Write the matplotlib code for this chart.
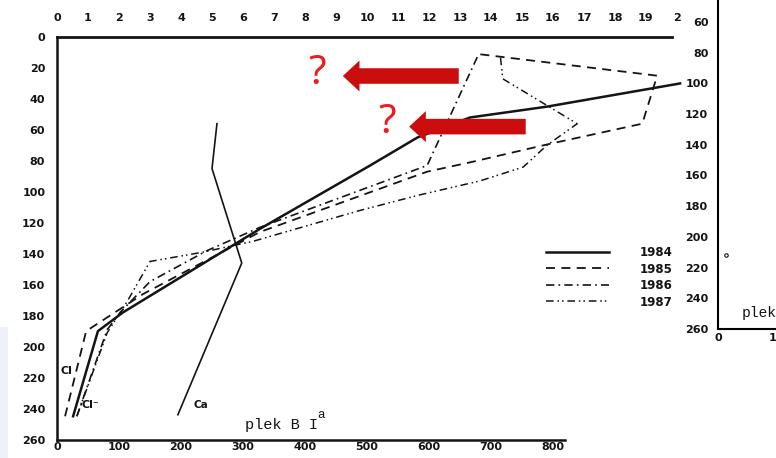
import matplotlib
matplotlib.use('Agg')
import matplotlib.pyplot as plt
from matplotlib.patches import Rectangle

# chloride profiles (mg/l) against depth (cm), plek B I^a
depth_1984 = [245, 190, 178, 124, 83, 65, 52, 45, 30]
cl_1984 = [26, 66, 106, 327, 505, 581, 666, 790, 1005]

depth_1985 = [245, 190, 166, 126, 87, 81, 69, 56, 25, 11]
cl_1985 = [13, 47, 139, 327, 597, 666, 795, 944, 968, 679]

depth_1986 = [245, 189, 177, 158, 138, 123, 83, 51, 12]
cl_1986 = [32, 81, 104, 150, 242, 327, 597, 634, 679]

depth_1987 = [245, 191, 171, 145, 139, 132, 112, 102, 93, 84, 70, 56, 27, 12]
cl_1987 = [32, 81, 113, 150, 235, 316, 489, 585, 682, 752, 790, 839, 719, 715]

# calcium profile
depth_ca = [56, 85, 146, 244]
ca = [258, 250, 298, 195]

years = ['1984', '1985', '1986', '1987']
depth_ticks = list(range(0, 261, 20))
bottom_ticks = list(range(0, 801, 100))
top_ticks = list(range(0, 21))
top_labels = [str(t) for t in range(20)] + ['2']

ink = '#141414'
W, H = 776, 458
fig = plt.figure(figsize=(W / 100, H / 100), dpi=100)

# left edge strip of the next panel in the scan
fig.patches.append(Rectangle((0, 0), 8 / W, (458 - 327) / H, transform=fig.transFigure,
                             facecolor='#eef2f8', edgecolor='none'))

''' main panel '''
ax = fig.add_axes([57 / W, 18.5 / H, 1010 * 0.62 / W, 402.5 / H])
ax.set_xlim(0, 1010)
ax.set_ylim(260, 0)

ax.plot(cl_1984, depth_1984, color=ink, lw=1.8, label=years[0])
ax.plot(cl_1985, depth_1985, color=ink, lw=1.3, dashes=(5, 3.5), label=years[1])
ax.plot(cl_1986, depth_1986, color=ink, lw=1.2, dashes=(5, 2.5, 1, 2.5), label=years[2])
ax.plot(cl_1987, depth_1987, color=ink, lw=1.1, dashes=(5, 2.5, 1, 2, 1, 2.5), label=years[3])
ax.plot(ca, depth_ca, color=ink, lw=1.2)

ax.spines['right'].set_visible(False)
ax.spines['left'].set_linewidth(1.8)
ax.spines['top'].set_linewidth(2.0)
ax.spines['bottom'].set_linewidth(1.8)
ax.spines['top'].set_bounds(0, 992)
ax.spines['bottom'].set_bounds(0, 820)
for s in ax.spines.values():
    s.set_color(ink)

ax.set_yticks(depth_ticks)
ax.set_xticks(bottom_ticks)
ax.tick_params(axis='y', length=0, pad=8.5, labelsize=8, labelcolor=ink)
ax.tick_params(axis='x', length=0, pad=2, labelsize=8, labelcolor=ink)
for lab in ax.get_yticklabels() + ax.get_xticklabels():
    lab.set_fontweight('bold')

sec = ax.secondary_xaxis('top', functions=(lambda x: x / 50.0, lambda x: x * 50.0))
sec.set_xticks(top_ticks)
sec.set_xticklabels(top_labels)
sec.tick_params(length=0, pad=10, labelsize=8, labelcolor=ink)
sec.spines['top'].set_visible(False)
for lab in sec.get_xticklabels():
    lab.set_fontweight('bold')

# curve labels
ax.text(5, 216, 'Cl', fontsize=8, fontweight='bold', color=ink, va='center')
ax.text(40, 238, 'Cl\u207b', fontsize=8, fontweight='bold', color=ink, va='center')
ax.text(220, 238, 'Ca', fontsize=7.5, fontweight='bold', color=ink, va='center')
ax.text(303, 253, 'plek B I', family='Liberation Mono', fontsize=11, color=ink)
ax.text(419, 246, 'a', family='Liberation Mono', fontsize=9, color=ink)

leg = ax.legend(loc='upper left', bbox_to_anchor=(546 / W, 1 - 246 / H),
                bbox_transform=fig.transFigure, frameon=False, borderpad=0,
                borderaxespad=0, handlelength=5.3, handletextpad=2.6,
                labelspacing=0.3, fontsize=8.5)
for t in leg.get_texts():
    t.set_fontweight('bold')
    t.set_color(ink)

# red annotations
red_arrow = '#cc0d0d'
red_q = '#ee1c1c'
for tip, tail, d in [(461, 648, 25.2), (568, 756, 57.9)]:
    ax.annotate('', xy=(tip, d), xytext=(tail, d),
                arrowprops=dict(arrowstyle='simple,head_length=1.2,head_width=2.23,tail_width=1.12',
                                mutation_scale=10, color=red_arrow, shrinkA=0, shrinkB=0, lw=0))
ax.text(419, 23.6, '?', fontsize=29, color=red_q, ha='center', va='center',
        family='Noto Sans', fontweight='light')
ax.text(533, 55.3, '?', fontsize=29, color=red_q, ha='center', va='center',
        family='Noto Sans', fontweight='light')

''' right panel, cut off by the scan '''
ax2 = fig.add_axes([718 / W, (458 - 329) / H, 200 / W, 329 / H])
ax2.set_xlim(0, 300)
ax2.set_ylim(260, 45.7)
ax2.plot([12], [212], marker='o', ms=2.5, mfc='white', mec=ink, mew=0.8, ls='none')
ax2.spines['top'].set_visible(False)
ax2.spines['right'].set_visible(False)
ax2.spines['left'].set_linewidth(1.5)
ax2.spines['bottom'].set_linewidth(1.5)
ax2.set_yticks(list(range(60, 261, 20)))
ax2.set_xticks([0, 82])
ax2.set_xticklabels(['0', '1'])
ax2.tick_params(axis='y', length=0, pad=7, labelsize=8, labelcolor=ink)
ax2.tick_params(axis='x', length=0, pad=3, labelsize=8, labelcolor=ink)
for lab in ax2.get_yticklabels() + ax2.get_xticklabels():
    lab.set_fontweight('bold')
ax2.text(36, 252, 'plek', family='Liberation Mono', fontsize=10.5, color=ink)

fig.savefig('out.png', dpi=100)
